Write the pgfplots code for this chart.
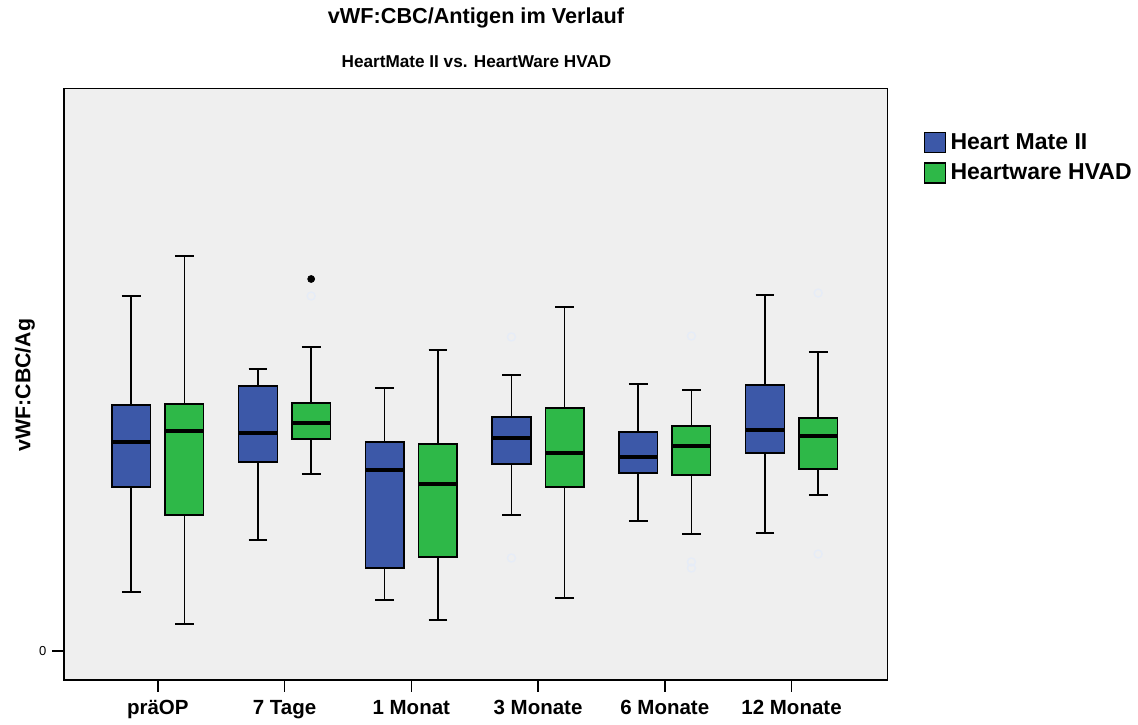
\documentclass[border=0pt]{standalone}
\usepackage{pgfplots}
\pgfplotsset{compat=1.18}
\usepgfplotslibrary{statistics}
\usepackage{fontspec}
\setmainfont{Liberation Sans}
\definecolor{hmblue}{RGB}{60,88,168}
\definecolor{hvgreen}{RGB}{46,184,72}
\definecolor{bgc}{RGB}{239,239,239}
\definecolor{faint}{RGB}{230,236,247}
\newcommand\bp[7]{\addplot[forget plot, fill=#1, draw=black, line width=0.9pt,
  boxplot prepared={draw position=#2, lower whisker=#3, lower quartile=#4, median=#5,
  upper quartile=#6, upper whisker=#7, box extend=0.305, whisker extend=0.148}] coordinates {};}
\begin{document}
\begin{tikzpicture}
\path[use as bounding box] (0,0) rectangle (682.8pt,434.4pt);
\node[font=\bfseries\fontsize{13}{15}\selectfont] at (285.6pt,423.6pt) {vWF:CBC/Antigen im Verlauf};
\node[font=\bfseries\fontsize{10.3}{12}\selectfont] at (285.9pt,397.2pt) {HeartMate II vs. HeartWare HVAD};
\node[font=\bfseries\fontsize{12.8}{15}\selectfont, rotate=90] at (15pt,203.4pt) {vWF:CBC/Ag};
\begin{axis}[
  at={(38.4pt,26.4pt)}, anchor=south west, scale only axis,
  width=494.1pt, height=354.9pt,
  xmin=-0.74, xmax=5.757, ymin=-0.29, ymax=5.625,
  axis background/.style={fill=bgc},
  axis line style={black, line width=0.9pt},
  tick align=outside, xtick pos=bottom, ytick pos=left,
  major tick length=7pt,
  tick style={black, line width=0.9pt},
  xtick={0,1,2,3,4,5},
  xticklabels={präOP, 7 Tage, 1 Monat, 3 Monate, 6 Monate, 12 Monate},
  xticklabel style={font=\bfseries\fontsize{12.3}{14}\selectfont, text height=9pt, text depth=2.6pt, yshift=-1pt},
  ytick={0}, yticklabels={0},
  yticklabel style={font=\fontsize{7.8}{9}\selectfont},
  boxplot/draw direction=y,
  boxplot/every median/.style={line width=2pt},
  boxplot/every whisker/.style={line width=0.9pt},
  legend style={at={(1.044,0.93)}, anchor=north west, draw=none, fill=none,
    font=\bfseries\fontsize{13.8}{15}\selectfont, row sep=3.2pt, inner sep=0pt,
    nodes={inner xsep=2.5pt}},
  legend cell align=left,
]
\bp{hmblue}{-0.21}{0.59}{1.64}{2.09}{2.46}{3.55}
\bp{hvgreen}{0.21}{0.27}{1.36}{2.20}{2.47}{3.95}
\bp{hmblue}{0.79}{1.11}{1.89}{2.18}{2.65}{2.82}
\bp{hvgreen}{1.21}{1.77}{2.12}{2.28}{2.48}{3.04}
\bp{hmblue}{1.79}{0.51}{0.83}{1.81}{2.09}{2.63}
\bp{hvgreen}{2.21}{0.31}{0.94}{1.67}{2.07}{3.01}
\bp{hmblue}{2.79}{1.36}{1.87}{2.13}{2.34}{2.76}
\bp{hvgreen}{3.21}{0.53}{1.64}{1.98}{2.43}{3.44}
\bp{hmblue}{3.79}{1.30}{1.78}{1.94}{2.19}{2.67}
\bp{hvgreen}{4.21}{1.17}{1.76}{2.05}{2.25}{2.61}
\bp{hmblue}{4.79}{1.18}{1.98}{2.21}{2.66}{3.56}
\bp{hvgreen}{5.21}{1.56}{1.82}{2.15}{2.33}{2.99}
\addplot[forget plot, only marks, mark=*, mark size=2.1pt, black] coordinates {(1.21,3.72)};
\addplot[forget plot, only marks, mark=o, mark size=2.4pt, draw=faint, line width=0.8pt]
  coordinates {(1.21,3.55) (2.79,3.14) (2.79,0.93) (4.21,3.15) (4.21,0.89) (4.21,0.83) (5.21,3.58) (5.21,0.97)};
\addlegendimage{legend image code/.code={\draw[fill=hmblue,draw=black,line width=0.8pt] (0pt,-6pt) rectangle (12.6pt,6pt);}}
\addlegendentry{Heart Mate II}
\addlegendimage{legend image code/.code={\draw[fill=hvgreen,draw=black,line width=0.8pt] (0pt,-6pt) rectangle (12.6pt,6pt);}}
\addlegendentry{Heartware HVAD}
\end{axis}
\end{tikzpicture}
\end{document}
